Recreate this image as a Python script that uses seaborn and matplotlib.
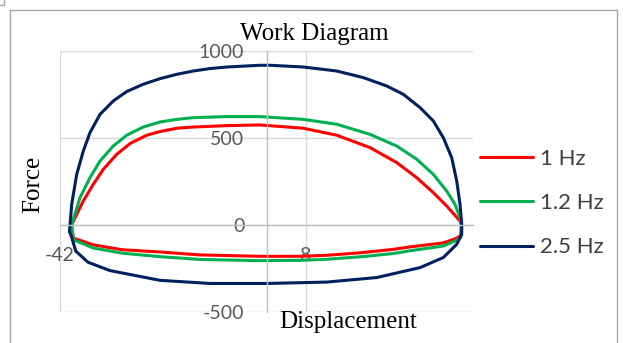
import pandas as pd
import matplotlib.pyplot as plt
from matplotlib.lines import Line2D
import seaborn as sns

# --- datos (desplazamiento, fuerza) ---
series_names = ['1 Hz', '1.2 Hz', '2.5 Hz']
series_colors = ['#FF0000', '#00B050', '#002060']

disp_1hz = [-39.66, -37.26, -35.23, -33.19, -30.47, -27.76, -24.36, -21.66, -18.26, -14.89,
            -8.09, -1.32, 7.49, 14.28, 21.05, 26.48, 30.55, 33.93, 36.65, 39.36, 39.66,
            39.50, 38.69, 35.96, 29.18, 25.79, 19.01, 12.25, 6.81, -1.32, -13.53,
            -21.66, -29.39, -35.23, -39.29, -39.66]
force_1hz = [0, 138, 234, 320, 406, 468, 516, 537, 556, 563,
             571, 575, 556, 516, 445, 359, 272, 186, 109, 23, 0,
             -60, -76, -103, -126, -140, -160, -174, -180, -180, -172,
             -155, -142, -114, -75, 0]

disp_12hz = [-39.66, -37.93, -35.90, -33.86, -31.16, -28.43, -25.06, -21.66, -18.26, -14.89,
             -8.09, -1.32, 7.49, 14.28, 21.05, 26.48, 30.55, 33.93, 36.65, 38.34, 39.36, 39.66,
             39.50, 38.69, 35.96, 29.18, 25.79, 19.01, 12.25, 6.81, -1.32, -13.53,
             -21.66, -29.39, -35.23, -39.29, -39.66]
force_12hz = [0, 157, 272, 368, 454, 516, 563, 592, 607, 617,
              623, 623, 607, 579, 521, 454, 378, 291, 195, 119, 43, 0,
              -70, -88, -121, -148, -164, -183, -197, -203, -205, -198,
              -182, -162, -132, -85, 0]

disp_25hz = [-40.07, -39.62, -38.60, -37.26, -35.90, -33.86, -31.16, -28.43, -25.06, -21.66,
             -18.26, -14.89, -11.49, -8.09, -1.32, 0.71, 7.49, 14.28, 19.69, 24.45,
             27.83, 31.22, 33.93, 35.96, 37.67, 38.69, 39.36, 39.71, 39.71,
             38.69, 35.96, 31.22, 22.42, 12.25, 0.04, -11.49, -21.66, -31.83,
             -36.30, -38.80, -39.62, -40.07]
force_25hz = [-36, 119, 291, 425, 531, 636, 713, 767, 809, 841,
              866, 885, 899, 908, 918, 918, 908, 885, 847, 799,
              751, 675, 598, 502, 387, 253, 119, 4, -53,
              -111, -187, -245, -302, -328, -336, -336, -318, -262,
              -214, -150, -71, -36]

y_ticks = [-500, 0, 500, 1000]
x_ticks = [-42, 8]


def armar_tabla():
    partes = []
    for name, d, f in zip(series_names, [disp_1hz, disp_12hz, disp_25hz],
                          [force_1hz, force_12hz, force_25hz]):
        partes.append(pd.DataFrame({'Displacement': d, 'Force': f, 'serie': name}))
    return pd.concat(partes, ignore_index=True)


def graficar(df):
    sns.set_style('white')
    plt.rcParams['font.family'] = ['Lato', 'DejaVu Sans']
    plt.rcParams['axes.unicode_minus'] = False

    W, H = 623, 343
    fig = plt.figure(figsize=(W / 100, H / 100), dpi=100)
    ax = fig.add_axes([60 / W, 1 - 312 / H, 413 / W, 261 / H])

    sns.lineplot(data=df, x='Displacement', y='Force', hue='serie',
                 palette=dict(zip(series_names, series_colors)),
                 sort=False, estimator=None, linewidth=2.2,
                 solid_joinstyle='round', solid_capstyle='round', ax=ax)

    ax.set_xlim(-42, 42)
    ax.set_ylim(-500, 1000)
    ax.set_xticks(x_ticks)
    ax.set_yticks(y_ticks)
    ax.set_xlabel('')
    ax.set_ylabel('')

    # ejes cruzando en el origen, estilo Excel
    ax.grid(True, color='#D9D9D9', linewidth=1.0)
    ax.set_axisbelow(True)
    for s in ['top', 'right']:
        ax.spines[s].set_visible(False)
    for s in ['left', 'bottom']:
        ax.spines[s].set_position(('data', 0))
        ax.spines[s].set_color('#BFBFBF')
        ax.spines[s].set_linewidth(1.0)
    ax.tick_params(length=0, pad=16, labelsize=14, labelcolor='#595959')

    sns.move_legend(ax, 'center left', bbox_to_anchor=(480 / W, 1 - 203 / H),
                    bbox_transform=fig.transFigure, frameon=False, title=None,
                    fontsize=16, handlelength=2.4, handletextpad=0.28,
                    labelspacing=1.1, borderpad=0, borderaxespad=0,
                    labelcolor='#404040')
    for h in ax.get_legend().legend_handles:
        h.set_linewidth(2.2)

    serif = 'Liberation Serif'
    fig.text(314 / W, 1 - 40 / H, 'Work Diagram', family=serif, fontsize=18,
             ha='center', va='baseline', color='black')
    fig.text(348 / W, 1 - 328 / H, 'Displacement', family=serif, fontsize=18,
             ha='center', va='baseline', color='black')
    fig.text(33 / W, 1 - 184 / H, 'Force', family=serif, fontsize=18,
             rotation=90, ha='center', va='center', color='black')

    # marco exterior del grafico
    borde = '#A6A6A6'
    fig.add_artist(Line2D([9.5 / W, 9.5 / W], [0, 1 - 9.5 / H], color=borde, lw=1.0,
                          transform=fig.transFigure))
    fig.add_artist(Line2D([9.5 / W, 616.5 / W], [1 - 9.5 / H, 1 - 9.5 / H], color=borde,
                          lw=1.0, transform=fig.transFigure))
    fig.add_artist(Line2D([616.5 / W, 616.5 / W], [0, 1 - 9.5 / H], color=borde, lw=1.0,
                          transform=fig.transFigure))
    fig.add_artist(Line2D([3.5 / W, 3.5 / W, 0], [1, 1 - 4.5 / H, 1 - 4.5 / H],
                          color=borde, lw=1.0, transform=fig.transFigure))

    fig.savefig('out.png', dpi=100)


if __name__ == '__main__':
    graficar(armar_tabla())
